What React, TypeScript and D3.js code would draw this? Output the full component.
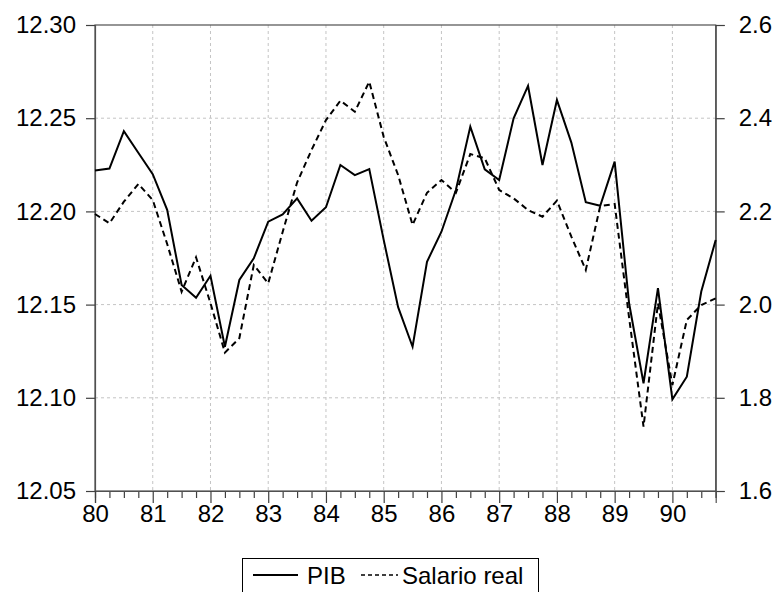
import React, { useEffect, useRef } from "react";
import * as d3 from "d3";

// quarterly data 1980Q1 - 1990Q4
const years = [1980, 1981, 1982, 1983, 1984, 1985, 1986, 1987, 1988, 1989, 1990];
const quarters = [0, 0.25, 0.5, 0.75];

const pib = [
  12.222, 12.223, 12.243, 12.2315, 12.220, 12.2008, 12.1605, 12.1537,
  12.1655, 12.1274, 12.1632, 12.1748, 12.1945, 12.1984, 12.207, 12.195,
  12.2022, 12.2249, 12.2195, 12.2227, 12.1847, 12.1486, 12.1274, 12.173,
  12.1891, 12.2115, 12.2455, 12.2226, 12.2168, 12.2499, 12.2673, 12.2249,
  12.2598, 12.2369, 12.2049, 12.203, 12.2267, 12.1507, 12.1078, 12.1588,
  12.0992, 12.1113, 12.157, 12.1847,
];

const salario = [
  2.1944, 2.1744, 2.2208, 2.2588, 2.2245, 2.13, 2.0277, 2.1015,
  2.003, 1.897, 1.928, 2.085, 2.0457, 2.156, 2.262, 2.3318,
  2.396, 2.4376, 2.414, 2.4784, 2.36, 2.278, 2.171, 2.240,
  2.2674, 2.240, 2.323, 2.314, 2.246, 2.228, 2.203, 2.1886,
  2.223, 2.146, 2.0742, 2.2116, 2.216, 1.972, 1.738, 2.0028,
  1.8275, 1.967, 1.9991, 2.0135,
];

const leftTicks = [12.05, 12.1, 12.15, 12.2, 12.25, 12.3];
const rightTicks = [1.6, 1.8, 2.0, 2.2, 2.4, 2.6];

const W = 773;
const H = 592;

export default function App() {
  const ref = useRef<SVGSVGElement | null>(null);

  useEffect(() => {
    const svg = d3.select(ref.current);
    svg.selectAll("*").remove();

    const periods: number[] = [];
    years.forEach(y => quarters.forEach(q => periods.push(y + q)));

    const left = 95, right = 715.7, top = 25, bottom = 491;
    const font = "'Liberation Sans', Arial, sans-serif";
    const fs = 24;

    const x = d3.scaleLinear().domain([1980, 1990.75]).range([left, right]);
    const yL = d3.scaleLinear().domain([12.05, 12.3]).range([bottom, top]);
    const yR = d3.scaleLinear().domain([1.6, 2.6]).range([bottom, top]);

    // grid
    const grid = svg.append("g")
      .attr("stroke", "#c4c4c4")
      .attr("stroke-width", 1)
      .attr("stroke-dasharray", "3,3");
    grid.selectAll("line.v")
      .data(years.slice(1))
      .enter().append("line")
      .attr("x1", d => x(d)).attr("x2", d => x(d))
      .attr("y1", top).attr("y2", bottom);
    grid.selectAll("line.h")
      .data(leftTicks.slice(1, -1))
      .enter().append("line")
      .attr("x1", left).attr("x2", right)
      .attr("y1", d => yL(d)).attr("y2", d => yL(d));

    // frame
    svg.append("rect")
      .attr("x", left).attr("y", top)
      .attr("width", right - left).attr("height", bottom - top)
      .attr("fill", "none")
      .attr("stroke", "#505050")
      .attr("stroke-width", 1.2);

    // axes
    const gl = svg.append("g").attr("transform", `translate(${left},0)`)
      .call(d3.axisLeft(yL).tickValues(leftTicks).tickFormat(d3.format(".2f")).tickSize(9).tickPadding(10));
    const gr = svg.append("g").attr("transform", `translate(${right},0)`)
      .call(d3.axisRight(yR).tickValues(rightTicks).tickFormat(d3.format(".1f")).tickSize(9).tickPadding(14));
    const gbm = svg.append("g").attr("transform", `translate(0,${bottom})`)
      .call(d3.axisBottom(x).tickValues(periods.filter(p => p % 1 !== 0)).tickSize(7).tickFormat(() => ""));
    const gb = svg.append("g").attr("transform", `translate(0,${bottom})`)
      .call(d3.axisBottom(x).tickValues(years).tickSize(12).tickPadding(2)
        .tickFormat(d => String(d).slice(2)));

    [gl, gr, gbm, gb].forEach(g => {
      g.select(".domain").attr("stroke", "#505050").attr("stroke-width", 1.2);
      g.selectAll(".tick line").attr("stroke", "#404040").attr("stroke-width", 1.2);
      g.selectAll("text")
        .attr("font-family", font)
        .attr("font-size", fs)
        .attr("fill", "#000");
    });
    gb.selectAll("text").attr("dy", "0.71em");

    // lines
    const linePib = d3.line<number>()
      .x((_, i) => x(periods[i]))
      .y(d => yL(d));
    const lineSal = d3.line<number>()
      .x((_, i) => x(periods[i]))
      .y(d => yR(d));

    svg.append("path")
      .datum(salario)
      .attr("d", lineSal)
      .attr("fill", "none")
      .attr("stroke", "#000")
      .attr("stroke-width", 2)
      .attr("stroke-dasharray", "6,4");

    svg.append("path")
      .datum(pib)
      .attr("d", linePib)
      .attr("fill", "none")
      .attr("stroke", "#000")
      .attr("stroke-width", 2);

    // legend
    const lg = svg.append("g");
    lg.append("rect")
      .attr("x", 242.5).attr("y", 558.5)
      .attr("width", 296).attr("height", 40)
      .attr("fill", "#fff")
      .attr("stroke", "#000")
      .attr("stroke-width", 1);
    lg.append("line")
      .attr("x1", 253).attr("x2", 298).attr("y1", 575).attr("y2", 575)
      .attr("stroke", "#000").attr("stroke-width", 2);
    lg.append("text")
      .attr("x", 307).attr("y", 584)
      .attr("font-family", font).attr("font-size", fs)
      .text("PIB");
    lg.append("line")
      .attr("x1", 361).attr("x2", 398).attr("y1", 575).attr("y2", 575)
      .attr("stroke", "#000").attr("stroke-width", 1.6)
      .attr("stroke-dasharray", "4,3");
    lg.append("text")
      .attr("x", 402).attr("y", 584)
      .attr("font-family", font).attr("font-size", fs)
      .text("Salario real");
  }, []);

  return (
    <div style={{ position: "absolute", left: 0, top: 0 }}>
      <svg ref={ref} width={W} height={H} style={{ display: "block", background: "#fff" }} />
    </div>
  );
}
